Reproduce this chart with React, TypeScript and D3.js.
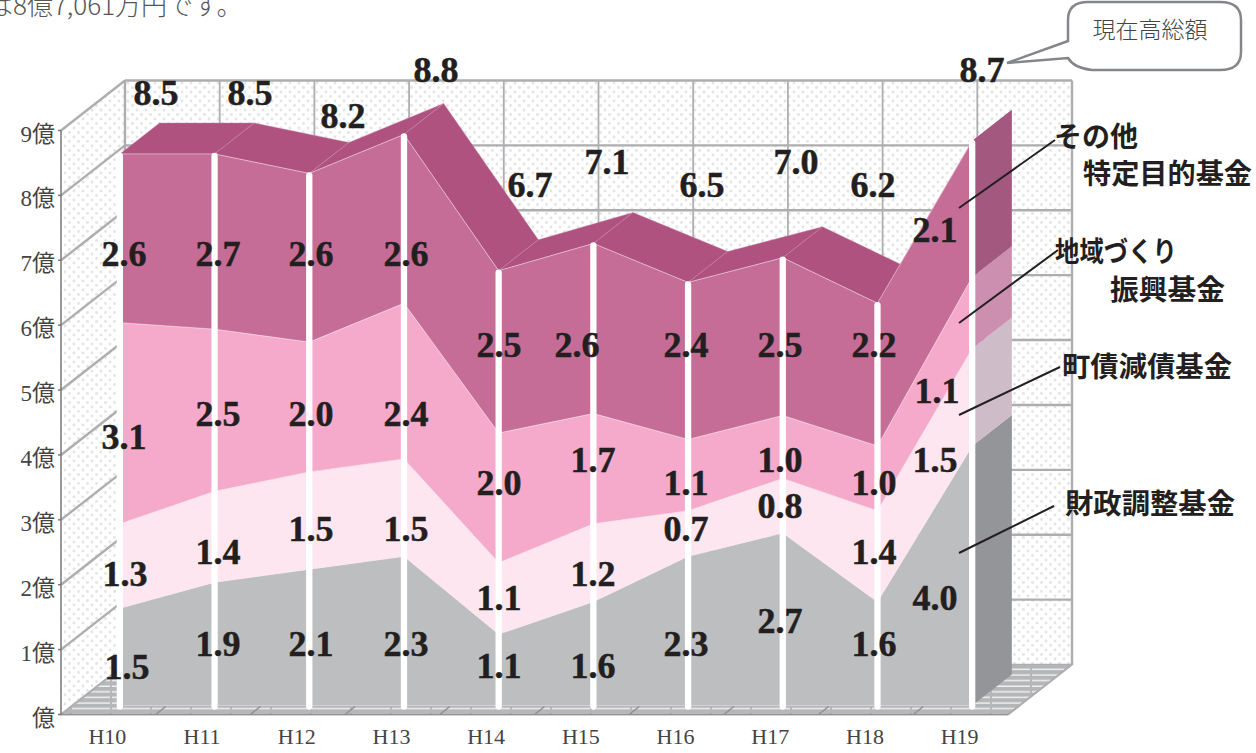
import React from "react";
import * as d3 from "d3";

const years = ["H10","H11","H12","H13","H14","H15","H16","H17","H18","H19"];
// plotted heights, read from the drawn stack (the artwork's labels are rounded)
const zaisei = [1.5,1.9,2.1,2.3,1.1,1.6,2.3,2.66,1.6,4.0];
const gensai = [1.3,1.4,1.5,1.5,1.1,1.2,0.7,0.84,1.4,1.5];
const chiiki = [3.1,2.5,2.0,2.4,2.0,1.7,1.1,0.97,1.0,1.1];
const sonota = [2.6,2.7,2.6,2.6,2.5,2.62,2.42,2.43,2.2,2.1];
// printed labels
const zaiseiText = ["1.5","1.9","2.1","2.3","1.1","1.6","2.3","2.7","1.6","4.0"];
const gensaiText = ["1.3","1.4","1.5","1.5","1.1","1.2","0.7","0.8","1.4","1.5"];
const chiikiText = ["3.1","2.5","2.0","2.4","2.0","1.7","1.1","1.0","1.0","1.1"];
const sonotaText = ["2.6","2.7","2.6","2.6","2.5","2.6","2.4","2.5","2.2","2.1"];
const totals = ["8.5","8.5","8.2","8.8","6.7","7.1","6.5","7.0","6.2","8.7"];
const yTicks = [0,1,2,3,4,5,6,7,8,9];

const seriesKeys = ["zaisei","gensai","chiiki","sonota"];
const frontColors = ["#bcbec0","#fde6f0","#f5a9cb","#c66d97"];
const sideColors = ["#939598","#cfbcc9","#cc8fb0","#a2587f"];
const topColor = "#b05280";

// hand-placed label anchors (centre of text) as in the source artwork
const labelX = [
  [127,218,311,406,499,593,686,780,874,935],
  [125,218,311,406,499,593,686,780,874,935],
  [124,218,311,406,499,593,686,780,874,937],
  [124,218,311,406,499,577,686,780,874,935],
];
const labelY = [
  [667,644,644,644,666,666,644,621,644,598],
  [574,552,529,529,598,574,529,506,552,460],
  [437,414,414,414,483,460,483,460,483,391],
  [254,254,254,254,345,345,345,345,345,230],
];
const totalX = [156,250,343,436,530,607,702,796,873,982];
const totalY = [93,93,116,70,185,162,185,162,185,70];

const rows = years.map((y, i) => ({ y, zaisei: zaisei[i], gensai: gensai[i], chiiki: chiiki[i], sonota: sonota[i] }));
const stacked = d3.stack<any>().keys(seriesKeys)(rows);

const x0 = 61, x1 = 1008;
const DX = 64, DY = -50;
const xBand = d3.scaleBand<string>().domain(years).range([x0, x1]);
const yScale = d3.scaleLinear().domain([0, 9]).range([714.5, 130.5]);
const D_FRONT = 0.18, D_BACK = 0.8;

const px = (i: number, d: number) => (xBand(years[i]) as number) + xBand.bandwidth() / 2 + DX * d;
const py = (v: number, d: number) => yScale(v) + DY * d;
const line = d3.line<[number, number]>();
const poly = (pts: [number, number][]) => line(pts) + "Z";

const serif = "'Liberation Serif', 'Noto Sans CJK JP', serif";
const cjk = "'Noto Sans CJK JP', sans-serif";

const wallPts: [number, number][] = [[x0 + DX, yScale(9) + DY], [x1 + DX, yScale(9) + DY], [x1 + DX, yScale(0) + DY], [x0 + DX, yScale(0) + DY]];
const leftPts: [number, number][] = [[x0, yScale(9)], [x0 + DX, yScale(9) + DY], [x0 + DX, yScale(0) + DY], [x0, yScale(0)]];
const floorPts: [number, number][] = [[x0, yScale(0)], [x1, yScale(0)], [x1 + DX, yScale(0) + DY], [x0 + DX, yScale(0) + DY]];

const gridC = "#aeaeb1";
const dark = "#231f20";

const leaders: [[number, number], [number, number]][] = [
  [[959,208],[1055,140]],
  [[959,323],[1058,250]],
  [[959,415],[1060,367]],
  [[959,553],[1054,506]],
];
const sideLabels: [string, number, number, number?][] = [
  ["その他",1054,147],
  ["特定目的基金",1083,184,169],
  ["地域づくり",1055,262,122],
  ["振興基金",1110,300,115],
  ["町債減債基金",1062,377,170],
  ["財政調整基金",1065,514,170],
];

export default function App() {
  const n = years.length;
  const labelSets = [zaiseiText, gensaiText, chiikiText, sonotaText];
  return (
    <svg width={1256} height={753} style={{ position: "absolute", left: 0, top: 0, background: "#fff" }}>
      <defs>
        <pattern id="dots" width="9" height="9" patternUnits="userSpaceOnUse">
          <rect width="9" height="9" fill="#fff" />
          <circle cx="2" cy="2" r="1.4" fill="#e4e4e5" />
          <circle cx="6.5" cy="6.5" r="1.4" fill="#e4e4e5" />
        </pattern>
        <pattern id="floor" width="40" height="5.6" patternUnits="userSpaceOnUse">
          <rect width="40" height="5.6" fill="#b5b6b8" />
          <line x1="0" x2="40" y1="3" y2="3" stroke="#f2f2f3" strokeWidth="1.5" strokeDasharray="30 2" />
        </pattern>
      </defs>

      <text x={-13} y={15} fontFamily={cjk} fontWeight={300} fontSize={26} fill="#555">は8億7,061万円です。</text>

      {/* walls */}
      <path d={poly(wallPts)} fill="url(#dots)" />
      <path d={poly(leftPts)} fill="url(#dots)" />
      <path d={poly(floorPts)} fill="url(#floor)" stroke={gridC} strokeWidth={1.5} />
      {yTicks.filter(t => t > 0).map(t => (
        <g key={t} stroke={gridC} strokeWidth={2.4} fill="none">
          <line x1={x0} y1={yScale(t)} x2={x0 + DX} y2={yScale(t) + DY} />
          <line x1={x0 + DX} y1={yScale(t) + DY} x2={x1 + DX} y2={yScale(t) + DY} />
        </g>
      ))}
      {years.map((y, i) => {
        const xb = x0 + DX + i * xBand.step();
        return <line key={y} x1={xb} x2={xb} y1={yScale(9) + DY} y2={yScale(0) + DY} stroke={gridC} strokeWidth={i === 0 ? 2.4 : 1.8} />;
      })}
      <line x1={x1 + DX} x2={x1 + DX} y1={yScale(9) + DY} y2={yScale(0) + DY} stroke={gridC} strokeWidth={2.4} />
      {years.map((y, i) => {
        const xt = x0 + (i + 1) * xBand.step();
        return <line key={y} x1={xt} x2={xt + 10} y1={yScale(0)} y2={yScale(0) - 8} stroke="#8f8f92" strokeWidth={1.5} />;
      })}
      <line x1={x0} y1={yScale(0)} x2={x0 + DX} y2={yScale(0) + DY} stroke={gridC} strokeWidth={2} />
      <line x1={x1} y1={yScale(0)} x2={x1 + DX} y2={yScale(0) + DY} stroke={gridC} strokeWidth={2} />
      <line x1={x0} x2={x1} y1={yScale(0)} y2={yScale(0)} stroke="#8f8f92" strokeWidth={1.6} />

      {/* y axis */}
      <line x1={x0} x2={x0} y1={yScale(9)} y2={yScale(0)} stroke="#77777a" strokeWidth={1.5} />
      {yTicks.map(t => (
        <g key={t}>
          <line x1={x0 - 3} x2={x0} y1={yScale(t)} y2={yScale(t)} stroke="#77777a" strokeWidth={1.5} />
          <text x={55} y={yScale(t) + 11} textAnchor="end" fontFamily={serif} fontSize={23} fill="#444">{t === 0 ? "億" : `${t}億`}</text>
        </g>
      ))}
      {years.map((y, i) => (
        <text key={y} x={px(i, 0) - 1} y={744} textAnchor="middle" fontFamily={serif} fontSize={22} fill="#444">{y}</text>
      ))}

      {/* top surface */}
      {d3.range(n - 1).map(i => {
        const top = stacked[3];
        return (
          <path key={i} d={poly([
            [px(i, D_FRONT), py(top[i][1], D_FRONT)],
            [px(i + 1, D_FRONT), py(top[i + 1][1], D_FRONT)],
            [px(i + 1, D_BACK), py(top[i + 1][1], D_BACK)],
            [px(i, D_BACK), py(top[i][1], D_BACK)],
          ])} fill={topColor} stroke="#c98aa9" strokeWidth={0.4} />
        );
      })}

      {/* right side */}
      {stacked.map((s, k) => (
        <path key={k} d={poly([
          [px(n - 1, D_FRONT), py(s[n - 1][0], D_FRONT)],
          [px(n - 1, D_FRONT), py(s[n - 1][1], D_FRONT)],
          [px(n - 1, D_BACK), py(s[n - 1][1], D_BACK)],
          [px(n - 1, D_BACK), py(s[n - 1][0], D_BACK)],
        ])} fill={sideColors[k]} />
      ))}

      {/* front */}
      {stacked.map((s, k) => {
        const area = d3.area<any>()
          .x((_, i) => px(i, D_FRONT))
          .y0(d => py(d[0], D_FRONT))
          .y1(d => py(d[1], D_FRONT));
        return <path key={k} d={area(s as any) as string} fill={frontColors[k]} stroke="#f7e9ef" strokeWidth={0.5} />;
      })}

      {/* poles */}
      {years.map((y, i) => (
        <line key={y} x1={px(i, D_FRONT)} x2={px(i, D_FRONT)}
          y1={py(stacked[3][i][1], D_FRONT) + 2} y2={py(0, D_FRONT) + 1}
          stroke="#fff" strokeWidth={6.3} strokeLinecap="round" />
      ))}

      {/* value labels */}
      <g fontFamily={serif} fontWeight={700} fontSize={36} fill={dark} stroke={dark} strokeWidth={0.5} textAnchor="middle">
        {labelSets.map((vals, k) =>
          vals.map((v, i) => (
            <text key={`${k}-${i}`} x={labelX[k][i]} y={labelY[k][i] + 12}>{v}</text>
          ))
        )}
        {totals.map((t, i) => <text key={i} x={totalX[i]} y={totalY[i] + 12}>{t}</text>)}
      </g>

      {/* leaders */}
      {leaders.map((l, i) => (
        <path key={i} d={line(l) as string} stroke={dark} strokeWidth={2} fill="none" />
      ))}
      <g fontFamily={cjk} fontWeight={700} fontSize={28} fill={dark}>
        {sideLabels.map(([t, x, y, w]) => (
          <text key={t} x={x} y={y} textLength={w} lengthAdjust={w ? "spacingAndGlyphs" : undefined}>{t}</text>
        ))}
      </g>

      {/* callout */}
      <path d="M1088 2 H1220 Q1241 2 1241 20 V52 Q1241 70 1220 70 H1092 Q1074 68 1068 58 L1007 63 L1068 41 V20 Q1068 2 1088 2Z"
        fill="#fff" stroke="#85868a" strokeWidth={2.5} />
      <text x={1150} y={38} textAnchor="middle" fontFamily={cjk} fontWeight={300} fontSize={23} fill="#444">現在高総額</text>
    </svg>
  );
}
